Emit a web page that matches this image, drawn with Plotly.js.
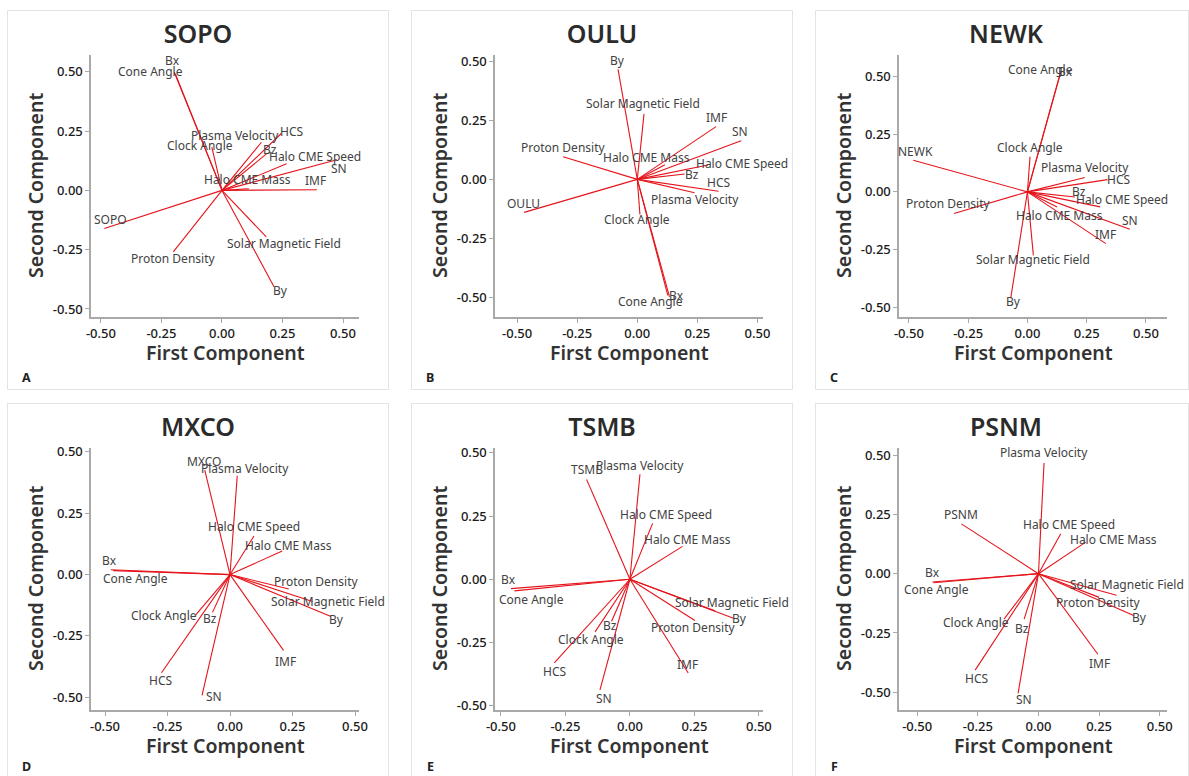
<!DOCTYPE html>
<html>
<head>
<meta charset="utf-8">
<script src="https://cdn.plot.ly/plotly-3.0.1.min.js"></script>
<style>
  html, body { margin: 0; padding: 0; background: #fff; width: 1189px; height: 776px; overflow: hidden; }
  .box { position: absolute; border: 1px solid #e3e3e3; overflow: hidden; background: #fff; }
  .box > div { position: absolute; left: 0; top: 0; }
</style>
</head>
<body>
<script>
// Loading variables shared by every station (the station's own count rate is appended last)
const variables = ['Bx', 'Cone Angle', 'Clock Angle', 'Plasma Velocity', 'HCS', 'Bz',
  'Halo CME Speed', 'SN', 'Halo CME Mass', 'IMF', 'Proton Density', 'Solar Magnetic Field', 'By'];
const stations = ['SOPO', 'OULU', 'NEWK', 'MXCO', 'TSMB', 'PSNM'];
const panelLetters = ['A', 'B', 'C', 'D', 'E', 'F'];
const tickVals = [-0.5, -0.25, 0, 0.25, 0.5];
const tickLabels = ['-0.50', '-0.25', '0.00', '0.25', '0.50'];

// First / second principal component loadings, same order as variables + station
const sopoPC1 = [-0.197, -0.193, -0.042, 0.163, 0.246, 0.185, 0.267, 0.475, 0.111, 0.392, -0.201, 0.183, 0.215, -0.486];
const sopoPC2 = [0.498, 0.492, 0.182, 0.203, 0.241, 0.155, 0.112, 0.129, 0.007, 0.003, -0.259, -0.196, -0.406, -0.161];

const ouluPC1 = [0.134, 0.127, 0.011, 0.238, 0.338, 0.197, 0.294, 0.432, 0.115, 0.328, -0.309, 0.028, -0.080, -0.471];
const ouluPC2 = [-0.499, -0.492, -0.149, -0.057, -0.050, 0.023, 0.061, 0.164, 0.062, 0.224, 0.096, 0.278, 0.467, -0.140];

const newkPC1 = [0.141, 0.138, 0.011, 0.242, 0.338, 0.200, 0.307, 0.432, 0.125, 0.331, -0.310, 0.025, -0.070, -0.482];
const newkPC2 = [0.520, 0.512, 0.152, 0.062, 0.053, -0.022, -0.065, -0.162, -0.065, -0.224, -0.094, -0.275, -0.458, 0.137];

const mxcoPC1 = [-0.477, -0.467, -0.137, 0.029, -0.274, -0.070, 0.096, -0.112, 0.209, 0.214, 0.235, 0.330, 0.404, -0.101];
const mxcoPC2 = [0.020, 0.016, -0.164, 0.403, -0.400, -0.154, 0.157, -0.492, 0.096, -0.309, -0.059, -0.110, -0.171, 0.426];

const tsmbPC1 = [-0.461, -0.448, -0.135, 0.039, -0.293, -0.071, 0.088, -0.116, 0.204, 0.226, 0.252, 0.330, 0.404, -0.168];
const tsmbPC2 = [-0.037, -0.046, -0.208, 0.415, -0.331, -0.166, 0.221, -0.437, 0.130, -0.371, -0.163, -0.125, -0.155, 0.395];

const psnmPC1 = [-0.437, -0.433, -0.142, 0.023, -0.261, -0.059, 0.092, -0.084, 0.195, 0.245, 0.250, 0.322, 0.395, -0.318];
const psnmPC2 = [-0.035, -0.038, -0.192, 0.467, -0.407, -0.192, 0.168, -0.505, 0.133, -0.340, -0.100, -0.091, -0.178, 0.210];

const loadings = {
  SOPO: [sopoPC1, sopoPC2], OULU: [ouluPC1, ouluPC2], NEWK: [newkPC1, newkPC2],
  MXCO: [mxcoPC1, mxcoPC2], TSMB: [tsmbPC1, tsmbPC2], PSNM: [psnmPC1, psnmPC2]
};

// ---- presentation settings ----
// axis ranges of each panel
const axisRanges = {
  SOPO: { x: [-0.541, 0.566], y: [-0.534, 0.571] },
  OULU: { x: [-0.592, 0.523], y: [-0.584, 0.528] },
  NEWK: { x: [-0.542, 0.589], y: [-0.542, 0.593] },
  MXCO: { x: [-0.556, 0.516], y: [-0.552, 0.516] },
  TSMB: { x: [-0.523, 0.516], y: [-0.517, 0.519] },
  PSNM: { x: [-0.575, 0.530], y: [-0.575, 0.530] }
};

// label nudges in pixels [right, down] from each arrow tip, keeping labels apart
const labelNudge = {
  SOPO: { 'Bx': [-2, -12], 'Cone Angle': [-25, -2], 'Clock Angle': [-12, -2], 'Plasma Velocity': [-26, -7],
    'HCS': [10, -2], 'Bz': [3, -4], 'Halo CME Speed': [28, -7], 'SN': [2, 9], 'Halo CME Mass': [-1, -9],
    'IMF': [-1, -9], 'Proton Density': [0, 7], 'Solar Magnetic Field': [18, 7], 'By': [6, 4], station: [6, -9] },
  OULU: { 'Bx': [7, -1], 'Cone Angle': [-17, 6], 'Clock Angle': [-3, 5], 'Plasma Velocity': [0, 7],
    'HCS': [0, -9], 'Bz': [7, 1], 'Halo CME Speed': [34, -2], 'SN': [-1, -9], 'Halo CME Mass': [-18, -7],
    'IMF': [0, -9], 'Proton Density': [0, -9], 'Solar Magnetic Field': [-1, -10], 'By': [-1, -9], station: [-1, -9] },
  NEWK: { 'Bx': [5, 0], 'Cone Angle': [-20, -4], 'Clock Angle': [0, -9], 'Plasma Velocity': [0, -10],
    'HCS': [11, 0], 'Bz': [4, -5], 'Halo CME Speed': [22, -7], 'SN': [0, -9], 'Halo CME Mass': [2, 9],
    'IMF': [0, -9], 'Proton Density': [-6, -10], 'Solar Magnetic Field': [0, 4], 'By': [3, 4], station: [2, -9] },
  MXCO: { 'Bx': [-1, -9], 'Cone Angle': [22, 8], 'Clock Angle': [-32, 1], 'Plasma Velocity': [8, -7],
    'HCS': [-1, 8], 'Bz': [-3, 6], 'Halo CME Speed': [0, -10], 'SN': [12, 1], 'Halo CME Mass': [6, -6],
    'IMF': [2, 11], 'Proton Density': [27, -8], 'Solar Magnetic Field': [15, 0], 'By': [5, 3], station: [-1, -9] },
  TSMB: { 'Bx': [-2, -9], 'Cone Angle': [17, 9], 'Clock Angle': [-4, 8], 'Plasma Velocity': [0, -9],
    'HCS': [0, 9], 'Bz': [-2, 4], 'Halo CME Speed': [13, -9], 'SN': [4, 9], 'Halo CME Mass': [5, -7],
    'IMF': [-1, -9], 'Proton Density': [-2, 7], 'Solar Magnetic Field': [17, -8], 'By': [5, 0], station: [0, -10] },
  PSNM: { 'Bx': [0, -9], 'Cone Angle': [3, 7], 'Clock Angle': [-28, 3], 'Plasma Velocity': [0, -10],
    'HCS': [1, 8], 'Bz': [-2, 9], 'Halo CME Speed': [8, -9], 'SN': [6, 6], 'Halo CME Mass': [28, -3],
    'IMF': [2, 9], 'Proton Density': [-1, 5], 'Solar Magnetic Field': [10, -11], 'By': [5, 2], station: [0, -9] }
};

// panel frames on the page: left, top, visible width, panel-letter drop below the x axis
const frames = [
  [7, 10, 380, 60], [411, 10, 380, 60], [815, 10, 372, 60],
  [7, 403, 380, 56], [411, 403, 380, 56], [815, 403, 372, 56]
];

const FONT = '"Noto Sans", "Open Sans", sans-serif';
const ARROW_RED = '#e5141b';
const AXIS_GREY = '#a9a9a9';

function axisStyle(range) {
  return {
    range: range, tickvals: tickVals, ticktext: tickLabels,
    showgrid: false, zeroline: false, showline: true,
    linecolor: AXIS_GREY, linewidth: 1.6, mirror: false,
    ticks: 'outside', ticklen: 4, tickwidth: 1, tickcolor: AXIS_GREY,
    tickfont: { family: FONT, size: 13, color: '#1a1a1a', weight: 500 },
    fixedrange: true
  };
}

stations.forEach((st, k) => {
  const [left, top, w, letterDrop] = frames[k];
  const box = document.createElement('div');
  box.className = 'box';
  box.style.left = left + 'px';
  box.style.top = top + 'px';
  box.style.width = w + 'px';
  box.style.height = '378px';
  const host = document.createElement('div');
  host.id = 'plot' + st;
  box.appendChild(host);
  document.body.appendChild(box);

  const [pc1, pc2] = loadings[st];
  const names = variables.concat([st]);

  // one segment from the origin to each loading
  const xs = [], ys = [];
  names.forEach((n, i) => { xs.push(0, pc1[i], null); ys.push(0, pc2[i], null); });

  const trace = {
    type: 'scatter', mode: 'lines', x: xs, y: ys,
    line: { color: ARROW_RED, width: 1.1 },
    hoverinfo: 'skip', showlegend: false
  };

  const annotations = names.map((n, i) => {
    const nudge = labelNudge[st][i === names.length - 1 ? 'station' : n];
    return {
      x: pc1[i], y: pc2[i], xref: 'x', yref: 'y', text: n, showarrow: false,
      xanchor: 'center', yanchor: 'middle',
      xshift: nudge[0], yshift: -nudge[1],
      font: { family: FONT, size: 12, color: '#424242' }
    };
  });

  annotations.push({
    xref: 'paper', yref: 'paper', x: 0.5, y: 0, yanchor: 'middle', xanchor: 'center',
    yshift: -35, showarrow: false, text: 'First Component',
    font: { family: FONT, size: 19.5, color: '#333333', weight: 600 }
  });
  annotations.push({
    xref: 'paper', yref: 'paper', x: 0, y: 0.5, xanchor: 'center', yanchor: 'middle',
    xshift: -56, textangle: -90, showarrow: false, text: 'Second Component',
    font: { family: FONT, size: 19.5, color: '#333333', weight: 600 }
  });
  annotations.push({
    xref: 'paper', yref: 'paper', x: 0, y: 0, xanchor: 'center', yanchor: 'middle',
    xshift: -65, yshift: -letterDrop, showarrow: false, text: panelLetters[k],
    font: { family: FONT, size: 12.5, color: '#222222', weight: 700 }
  });

  const layout = {
    width: 380, height: 378,
    margin: { l: 83, r: 29, t: 44, b: 72, pad: 0 },
    paper_bgcolor: 'rgba(0,0,0,0)', plot_bgcolor: 'rgba(0,0,0,0)',
    title: {
      text: st, xref: 'container', yref: 'container', x: 0.5, y: 1 - 23 / 378,
      xanchor: 'center', yanchor: 'middle',
      font: { family: FONT, size: 25, color: '#2b2b2b', weight: 600 }
    },
    xaxis: axisStyle(axisRanges[st].x),
    yaxis: axisStyle(axisRanges[st].y),
    annotations: annotations,
    showlegend: false
  };

  Plotly.newPlot(host, [trace], layout, { staticPlot: true, displayModeBar: false });
});
</script>
</body>
</html>
